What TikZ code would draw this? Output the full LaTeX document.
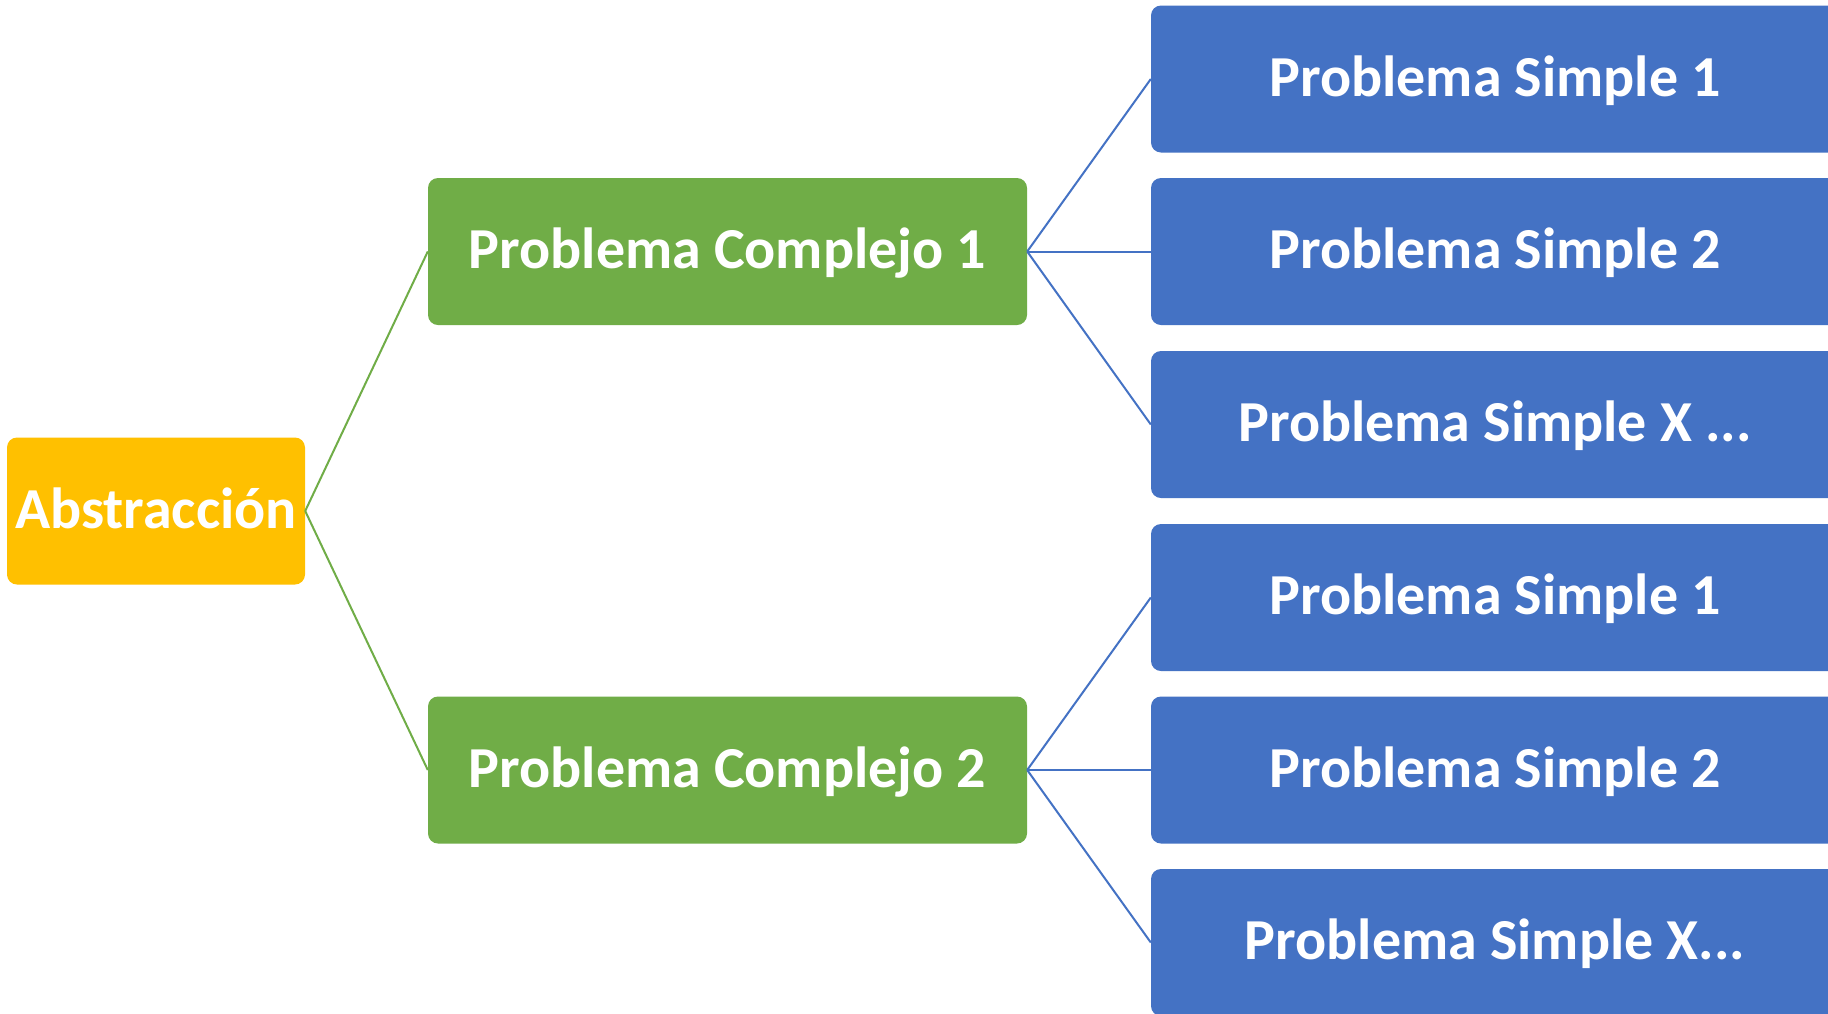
\documentclass[tikz,border=0pt]{standalone}
\usepackage{fontspec}
\setmainfont{Carlito}
\definecolor{abstrYellow}{HTML}{FFC000}
\definecolor{complexGreen}{HTML}{70AD47}
\definecolor{simpleBlue}{HTML}{4472C4}
\begin{document}
\begin{tikzpicture}[x=1pt,y=-1pt,
  box/.style={rounded corners=10pt, inner sep=0pt, text=white,
    font=\fontsize{58}{70}\selectfont\bfseries,
    text height=43pt, text depth=9pt, minimum height=147pt},
  rootbox/.style={box, fill=abstrYellow, minimum width=298pt},
  complexbox/.style={box, fill=complexGreen, minimum width=599pt},
  simplebox/.style={box, fill=simpleBlue, minimum width=688pt},
  greenlink/.style={draw=complexGreen, line width=2pt},
  bluelink/.style={draw=simpleBlue, line width=2pt}]
  \clip (0,0) rectangle (1828,1013);
  \fill[white] (0,0) rectangle (1828,1013);

  % root
  \node[rootbox] (abs) at (156,511) {Abstracción};

  % complex problems
  \node[complexbox] (c1) at (727.5,251.5) {Problema Complejo 1};
  \node[complexbox] (c2) at (727.5,770) {Problema Complejo 2};

  % simple problems
  \node[simplebox] (s11) at (1495,79)  {Problema Simple 1};
  \node[simplebox] (s12) at (1495,251.5) {Problema Simple 2};
  \node[simplebox] (s1x) at (1495,424.5) {Problema Simple X ...};
  \node[simplebox] (s21) at (1495,597.5) {Problema Simple 1};
  \node[simplebox] (s22) at (1495,770) {Problema Simple 2};
  \node[simplebox] (s2x) at (1495,942.5) {Problema Simple X...};

  % connectors
  \draw[greenlink] (abs.east) -- (c1.west);
  \draw[greenlink] (abs.east) -- (c2.west);
  \foreach \t in {s11,s12,s1x}
    \draw[bluelink] (c1.east) -- (\t.west);
  \foreach \t in {s21,s22,s2x}
    \draw[bluelink] (c2.east) -- (\t.west);
\end{tikzpicture}
\end{document}
